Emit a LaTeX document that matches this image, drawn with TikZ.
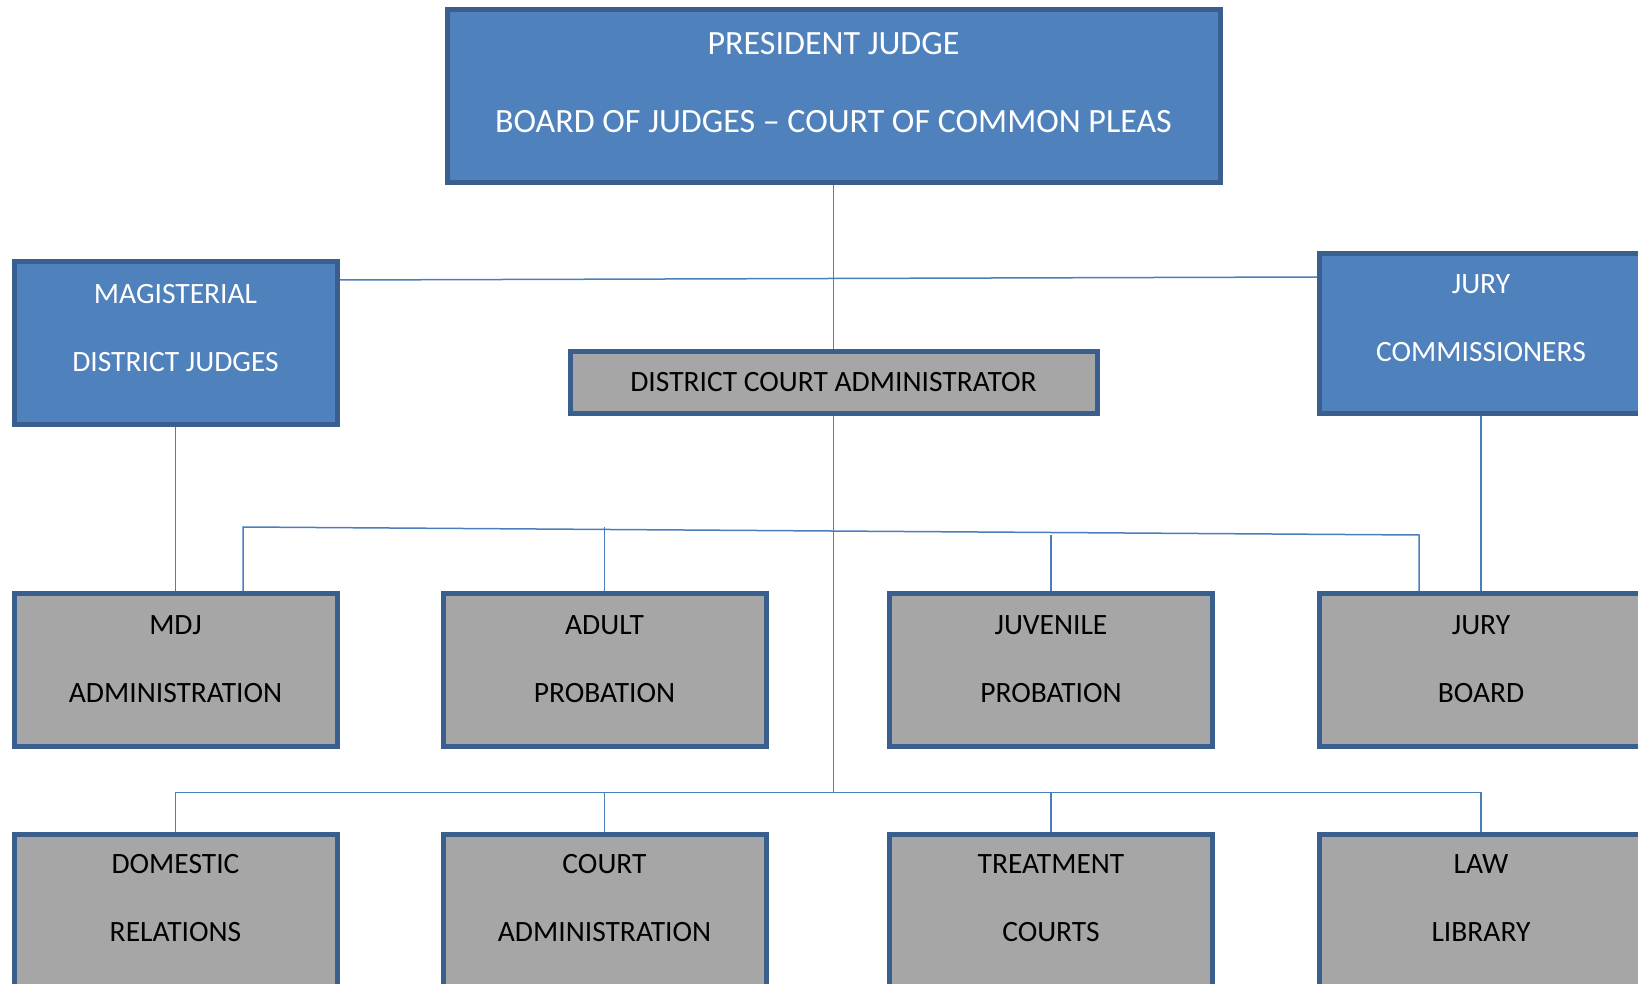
\documentclass[tikz,border=0pt]{standalone}
\usepackage{fontspec}
\setmainfont{Carlito}
\usepackage{tikz}
\usetikzlibrary{positioning}
\definecolor{boxblue}{HTML}{4F81BD}
\definecolor{rimblue}{HTML}{3A5F8E}
\definecolor{boxgrey}{HTML}{A6A6A6}
\definecolor{wireblue}{HTML}{4A7EBB}
\tikzstyle{wire} = [draw=wireblue, line width=1.5pt]
\tikzstyle{unit} = [rectangle, draw=rimblue, line width=5pt, align=center, inner sep=0pt, font=\fontsize{29.5}{68}\selectfont, text height=86pt]
\tikzstyle{bluebox} = [unit, fill=boxblue, text=white]
\tikzstyle{greybox} = [unit, fill=boxgrey, text=black, minimum width=323pt, minimum height=153pt, text depth=22pt]

\begin{document}
\begin{tikzpicture}[x=1pt, y=-1pt]
		\useasboundingbox (0,0) rectangle (1638,984);
		% top of the chart
		\node (pj) [bluebox, minimum width=773pt, minimum height=173pt, font=\fontsize{34}{78}\selectfont, text height=98pt, text depth=24pt] at (833.5,96) {PRESIDENT JUDGE\\BOARD OF JUDGES -- COURT OF COMMON PLEAS};
		\node (mag) [bluebox, minimum width=323pt, minimum height=163pt, text depth=30pt] at (175.5,343) {MAGISTERIAL\\DISTRICT JUDGES};
		\node (jury) [bluebox, minimum width=323pt, minimum height=160pt, text depth=31pt] at (1481,333.5) {JURY\\COMMISSIONERS};
		\node (dca) [unit, fill=boxgrey, minimum width=527pt, minimum height=62pt, text height=18pt, text depth=0pt] at (833.5,382.5) {DISTRICT COURT ADMINISTRATOR};
		\draw [wire] (pj) -- (dca);
		\draw [wire] ([yshift=63pt]mag.east) -- ([yshift=56.5pt]jury.west);
		% middle row
		\node (mdj) [greybox] at (175.5,670) {MDJ\\ADMINISTRATION};
		\node (adult) [greybox] at (604.5,670) {ADULT\\PROBATION};
		\node (juv) [greybox] at (1051,670) {JUVENILE\\PROBATION};
		\node (jboard) [greybox] at (1481,670) {JURY\\BOARD};
		\draw [wire] (mag) -- (mdj);
		\draw [wire] (jury) -- (jboard);
		\coordinate (busl) at (243,527);
		\coordinate (busr) at (1419,535);
		\draw [wire] ([xshift=67.5pt]mdj.north) -- (busl) -- (busr) -- ([xshift=-62pt]jboard.north);
		\draw [wire] (adult.north) -- (adult.north |- busl);
		\draw [wire] (juv.north) -- (juv.north |- busr);
		% bottom row
		\node (dom) [greybox, text depth=25pt] at (175.5,911) {DOMESTIC\\RELATIONS};
		\node (court) [greybox, text depth=25pt] at (604.5,911) {COURT\\ADMINISTRATION};
		\node (treat) [greybox, text depth=25pt] at (1051,911) {TREATMENT\\COURTS};
		\node (law) [greybox, text depth=25pt] at (1481,911) {LAW\\LIBRARY};
		\coordinate (busb) at (833.5,792.7);
		\draw [wire] (dca) -- (busb);
		\draw [wire] (dom.north) |- (busb) -| (law.north);
		\draw [wire] (court.north) -- (court.north |- busb);
		\draw [wire] (treat.north) -- (treat.north |- busb);
\end{tikzpicture}
\end{document}
